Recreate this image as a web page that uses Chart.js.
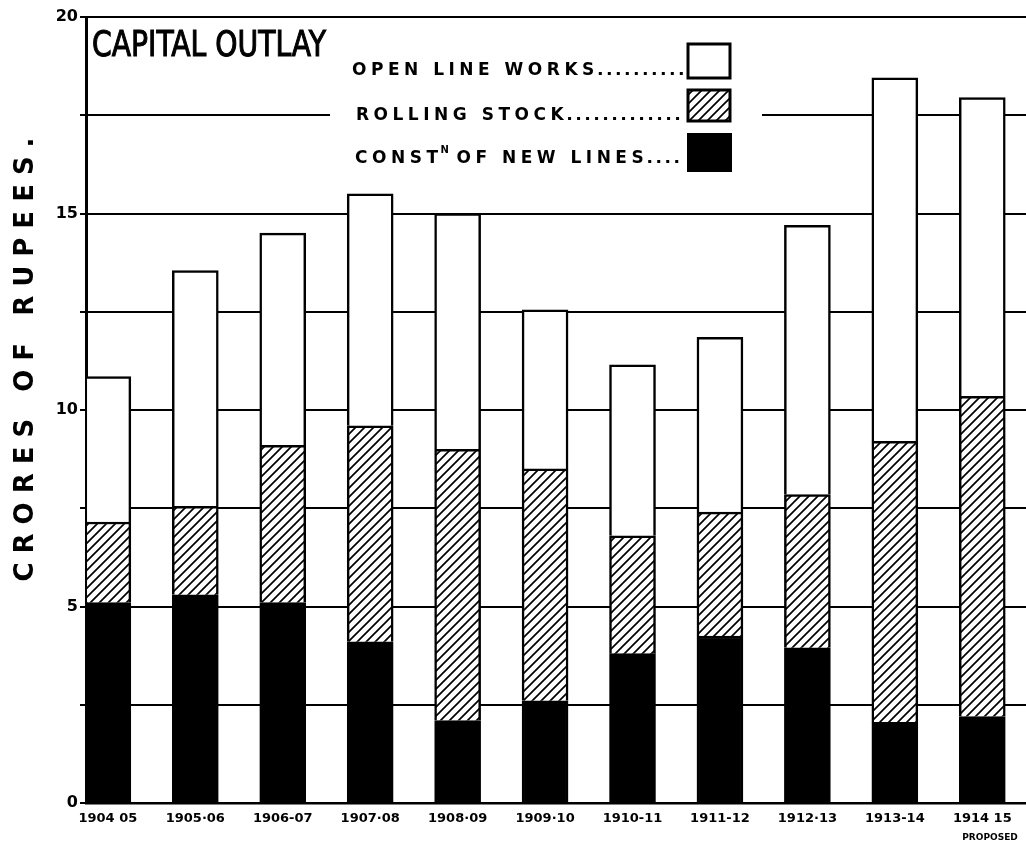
<!DOCTYPE html>
<html>
<head>
<meta charset="utf-8">
<script src="https://cdn.jsdelivr.net/npm/chart.js@4.4.1/dist/chart.umd.min.js"></script>
<style>
  html, body { margin: 0; padding: 0; background: #fff; }
  #wrap { width: 1026px; height: 845px; position: relative; }
</style>
</head>
<body>
<div id="wrap"><canvas id="chart"></canvas></div>
<script>
// Capital outlay, crores of rupees
const years = ['1904 05', '1905·06', '1906-07', '1907·08', '1908·09', '1909·10',
               '1910-11', '1911-12', '1912·13', '1913-14', '1914 15'];
const newLines = [5.1, 5.3, 5.1, 4.1, 2.1, 2.6, 3.8, 4.25, 3.95, 2.05, 2.2];
const rollingStock = [2.05, 2.25, 4.0, 5.5, 6.9, 5.9, 3.0, 3.15, 3.9, 7.15, 8.15];
const openLineWorks = [3.7, 6.0, 5.4, 5.9, 6.0, 4.05, 4.35, 4.45, 6.85, 9.25, 7.6];
const yTicks = [0, 5, 10, 15, 20];

const FONT = '"DejaVu Sans", "Liberation Sans", sans-serif';
const NARROW = '"Liberation Sans Narrow", "DejaVu Sans Condensed", "Liberation Sans", sans-serif';

function hatch(){
  const c = document.createElement('canvas');
  c.width = 9; c.height = 9;
  const g = c.getContext('2d');
  g.fillStyle = '#fff'; g.fillRect(0,0,9,9);
  g.strokeStyle = '#000'; g.lineWidth = 1.7;
  g.beginPath();
  g.moveTo(-1,10); g.lineTo(10,-1);
  g.moveTo(-5,5); g.lineTo(5,-5);
  g.moveTo(4,14); g.lineTo(14,4);
  g.stroke();
  return g.createPattern(c, 'repeat');
}
const hatchFill = hatch();

const pts = arr => arr.map((v,i)=>({x:i, y:v}));

// text with letter spacing, then return the end x
function spaced(ctx, txt, x, y, sp){
  ctx.letterSpacing = sp + 'px';
  ctx.fillText(txt, x, y);
  const w = ctx.measureText(txt).width;
  ctx.letterSpacing = '0px';
  return x + w;
}

function leader(ctx, x0, x1, y){
  for (let x = x0; x < x1 - 2; x += 9) ctx.fillRect(x, y - 3, 3, 3);
}

const decor = {
  id: 'decor',
  afterDraw(chart){
    const ctx = chart.ctx;
    ctx.save();
    ctx.fillStyle = '#000';

    // y axis title
    ctx.save();
    ctx.translate(26, 355);
    ctx.rotate(-Math.PI/2);
    ctx.font = 'bold 26px ' + FONT;
    ctx.letterSpacing = '9px';
    ctx.textAlign = 'center';
    ctx.textBaseline = 'middle';
    ctx.fillText('CRORES OF RUPEES.', 0, 0);
    ctx.restore();

    // title
    ctx.font = '35px ' + NARROW;
    ctx.textAlign = 'left';
    ctx.textBaseline = 'alphabetic';
    ctx.strokeStyle = '#000';
    ctx.lineWidth = 1;
    ctx.fillText('CAPITAL OUTLAY', 92, 56, 234);
    ctx.strokeText('CAPITAL OUTLAY', 92, 56, 234);

    // legend
    ctx.fillStyle = '#fff';
    ctx.fillRect(330, 24, 432, 156);
    ctx.fillStyle = '#000';
    ctx.font = 'bold 17px ' + FONT;
    let e = spaced(ctx, 'OPEN LINE WORKS', 352, 75, 4.5);
    leader(ctx, e, 686, 75);
    e = spaced(ctx, 'ROLLING STOCK', 356, 120, 4.5);
    leader(ctx, e, 686, 120);
    e = spaced(ctx, 'CONST', 355, 163, 4.5);
    ctx.font = 'bold 10px ' + FONT;
    ctx.fillText('N', e - 2, 153);
    ctx.font = 'bold 17px ' + FONT;
    e = spaced(ctx, 'OF NEW LINES', e + 14, 163, 4.5);
    leader(ctx, e, 686, 163);

    ctx.lineWidth = 3;
    ctx.strokeRect(688, 44, 42, 34);
    ctx.fillStyle = hatchFill;
    ctx.fillRect(688, 90, 42, 31);
    ctx.strokeRect(688, 90, 42, 31);
    ctx.fillStyle = '#000';
    ctx.fillRect(687, 133, 45, 39);

    // note under last label
    ctx.font = 'bold 9px ' + FONT;
    ctx.textAlign = 'center';
    ctx.fillText('PROPOSED', 990, 840);
    ctx.restore();
  }
};

new Chart(document.getElementById('chart'), {
  type: 'bar',
  data: {
    datasets: [
      {label: 'CONSTN OF NEW LINES', data: pts(newLines), backgroundColor: '#000',
       borderColor: '#000', borderWidth: 2.5},
      {label: 'ROLLING STOCK', data: pts(rollingStock), backgroundColor: hatchFill,
       borderColor: '#000', borderWidth: 2.5},
      {label: 'OPEN LINE WORKS', data: pts(openLineWorks), backgroundColor: '#fff',
       borderColor: '#000', borderWidth: 2.5}
    ]
  },
  options: {
    responsive: true,
    maintainAspectRatio: false,
    animation: false,
    layout: {padding: {top: 17, left: 0, right: 0, bottom: 0}},
    barThickness: 46,
    plugins: {legend: {display: false}, tooltip: {enabled: false}},
    scales: {
      x: {
        type: 'linear', stacked: true, min: -0.25, max: 10.5, offset: false,
        afterBuildTicks: s => { s.ticks = years.map((_, i) => ({value: i})); },
        afterFit: s => { s.height = 42; },
        grid: {display: false, drawTicks: false},
        border: {display: true, color: '#000', width: 2.5},
        ticks: {
          autoSkip: false, maxRotation: 0, padding: 8, color: '#000',
          font: {family: FONT, weight: 'bold', size: 13},
          callback: v => years[v] ?? ''
        }
      },
      y: {
        stacked: true, min: 0, max: 20,
        afterFit: s => { s.width = 86; },
        afterBuildTicks: s => {
          s.ticks = [0, 2.5, 5, 7.5, 10, 12.5, 15, 17.5, 20].map(v => ({value: v}));
        },
        grid: {color: '#000', lineWidth: 2, tickLength: 6},
        border: {display: true, color: '#000', width: 3},
        ticks: {
          color: '#000', padding: 2,
          font: {family: FONT, weight: 'bold', size: 16},
          callback: v => yTicks.includes(v) ? v : ''
        }
      }
    }
  },
  plugins: [decor]
});
</script>
</body>
</html>
